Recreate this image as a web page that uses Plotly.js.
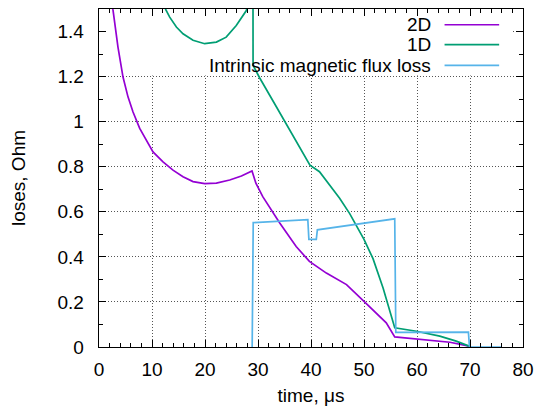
<!DOCTYPE html>
<html>
<head>
<meta charset="utf-8">
<script src="https://cdn.plot.ly/plotly-3.0.1.min.js"></script>
<style>html,body{margin:0;padding:0;background:#fff;}#chart{width:540px;height:411px;}</style>
</head>
<body>
<div id="chart"></div>
<script>
// 2D losses
var x2D = [2.3, 2.64, 3.58, 4.53, 5.47, 6.42, 7.68, 8.94, 10.19, 12.08, 13.96, 15.85, 17.74, 19.94, 22.15, 24.66, 26.87, 28.87,
           29.6, 30.9, 34.1, 37.2, 39.7, 42.9, 46.7, 50.0, 53.0, 54.2, 55.8, 61.1, 66.2, 69.8, 70.0];
var y2D = [1.62, 1.496, 1.331, 1.198, 1.110, 1.043, 0.970, 0.918, 0.866, 0.822, 0.785, 0.756, 0.734, 0.725, 0.727, 0.741, 0.759, 0.781,
           0.727, 0.667, 0.550, 0.446, 0.380, 0.328, 0.277, 0.203, 0.136, 0.107, 0.045, 0.033, 0.021, 0.004, 0.0];
// 1D losses
var x1D = [12.2, 12.58, 13.34, 14.6, 15.85, 17.74, 19.94, 22.15, 24.0, 25.9, 27.8, 28.4, 29.05,
           29.07, 30.3, 33.0, 36.0, 38.2, 39.8, 41.6, 42.9, 45.4, 47.3, 50.0, 51.7, 53.6, 55.8, 59.9, 64.3, 67.4, 69.8, 70.0];
var y1D = [1.55, 1.498, 1.464, 1.420, 1.390, 1.361, 1.346, 1.353, 1.375, 1.427, 1.493, 1.56, 1.62,
           1.25, 1.195, 1.085, 0.965, 0.874, 0.807, 0.778, 0.737, 0.660, 0.592, 0.478, 0.392, 0.262, 0.085, 0.070, 0.048, 0.026, 0.004, 0.0];
// Intrinsic magnetic flux loss
var xFlux = [28.9, 29.1, 39.4, 39.6, 41.0, 41.2, 55.8, 56.0, 69.7, 69.9, 76.0];
var yFlux = [0.0, 0.552, 0.565, 0.478, 0.478, 0.520, 0.569, 0.065, 0.066, 0.0, 0.0];

var names = ['2D', '1D', 'Intrinsic magnetic flux loss'];
var colors = ['#9400d3', '#009e73', '#56b4e9'];
var xs = [x2D, x1D, xFlux];
var ys = [y2D, y1D, yFlux];

var FONT = 'Liberation Sans, Arial, Helvetica, sans-serif';
var traces = names.map(function (n, i) {
  return {x: xs[i], y: ys[i], name: n, type: 'scatter', mode: 'lines',
          line: {color: colors[i], width: 1.7}, showlegend: false, cliponaxis: true};
});

// legend drawn gnuplot-style: right-aligned text, sample line on the right
var legY = [1.430, 1.342, 1.250];
var annotations = names.map(function (n, i) {
  return {x: 63.0, y: legY[i], xref: 'x', yref: 'y', text: n, showarrow: false,
          xanchor: 'right', yanchor: 'middle', font: {family: FONT, size: 19, color: '#000'}};
});
var shapes = [{type: 'rect', xref: 'x', yref: 'y', x0: 0, x1: 77.9, y0: 1.205, y1: 1.5,
               fillcolor: '#fff', line: {width: 0}, layer: 'between'}];
names.forEach(function (n, i) {
  shapes.push({type: 'line', xref: 'x', yref: 'y', x0: 65.2, x1: 75.5, y0: legY[i], y1: legY[i],
               line: {color: colors[i], width: 1.7}, layer: 'above'});
});

var axisCommon = {
  showline: true, linecolor: '#000', linewidth: 1.3, mirror: 'ticks',
  ticks: 'inside', ticklen: 7, tickcolor: '#000', tickwidth: 1,
  showgrid: true, gridcolor: '#555', griddash: '1px,2px', gridwidth: 1,
  zeroline: false, tickfont: {family: FONT, size: 19, color: '#000'}
};
var layout = {
  width: 540, height: 411,
  margin: {l: 99, r: 17, t: 9, b: 64},
  paper_bgcolor: '#fff', plot_bgcolor: '#fff',
  font: {family: FONT, size: 19, color: '#000'},
  xaxis: Object.assign({}, axisCommon, {
    range: [0, 80], dtick: 10, tick0: 0,
    minor: {dtick: 2, ticks: 'inside', ticklen: 4, tickcolor: '#000', showgrid: false},
    title: {text: 'time, \u03bcs', font: {family: FONT, size: 19}, standoff: 9},
    ticklabelstandoff: 5
  }),
  yaxis: Object.assign({}, axisCommon, {
    range: [0, 1.5], dtick: 0.2, tick0: 0,
    minor: {dtick: 0.1, ticks: 'inside', ticklen: 4, tickcolor: '#000', showgrid: false},
    title: {text: 'loses, Ohm', font: {family: FONT, size: 19}, standoff: 26},
    ticklabelstandoff: 10
  }),
  annotations: annotations,
  shapes: shapes,
  showlegend: false
};
Plotly.newPlot('chart', traces, layout, {staticPlot: true, displayModeBar: false});
</script>
</body>
</html>
